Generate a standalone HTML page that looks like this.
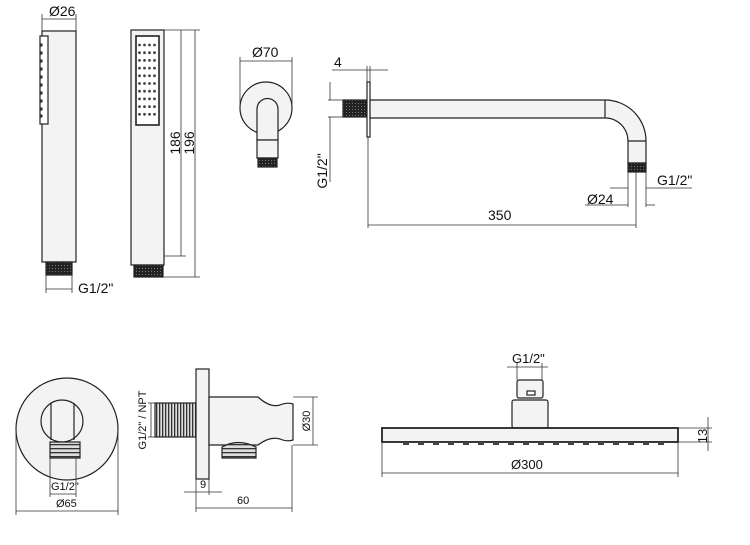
<!DOCTYPE html>
<html><head><meta charset="utf-8"><style>
html,body{margin:0;padding:0;background:#fff;}
svg{display:block;}
text{font-family:"Liberation Sans",sans-serif;fill:#111;}
</style></head><body>
<svg width="750" height="545" viewBox="0 0 750 545" xmlns="http://www.w3.org/2000/svg">
<defs>
<pattern id="th" width="3" height="3" patternUnits="userSpaceOnUse"><rect width="3" height="3" fill="#222"/><rect x="1" y="1" width="1" height="1" fill="#777"/></pattern>
<pattern id="tv" width="3" height="4" patternUnits="userSpaceOnUse"><rect width="3" height="4" fill="#ddd"/><rect width="3" height="1.3" fill="#333"/></pattern>
<pattern id="tx" width="3" height="4" patternUnits="userSpaceOnUse"><rect width="3" height="4" fill="#ddd"/><rect width="1.3" height="4" fill="#333"/></pattern>
</defs>
<g stroke="#222" stroke-width="1.2" fill="#f3f3f3">
<rect x="42" y="31" width="34" height="231"/>
<rect x="40" y="36" width="8" height="88" fill="#fff"/>
<g fill="#333" stroke="none">
<circle cx="41" cy="45" r="1.7"/><circle cx="41" cy="53" r="1.7"/><circle cx="41" cy="61" r="1.7"/><circle cx="41" cy="69" r="1.7"/><circle cx="41" cy="77" r="1.7"/><circle cx="41" cy="85" r="1.7"/><circle cx="41" cy="93" r="1.7"/><circle cx="41" cy="101" r="1.7"/><circle cx="41" cy="109" r="1.7"/><circle cx="41" cy="116" r="1.7"/>
</g>
<rect x="46" y="262" width="26" height="13" fill="url(#th)"/>
<rect x="131" y="30" width="33" height="235"/>
<rect x="136" y="36" width="23" height="89" fill="#fff" stroke-width="1.6"/>
<rect x="134" y="265" width="29" height="12" fill="url(#th)"/>
<circle cx="266" cy="108" r="26"/>
<path d="M257,140 V109 A10.5,10.5 0 0 1 278,109 V140 Z"/>
<rect x="257" y="140" width="21" height="18"/>
<rect x="258" y="158" width="19" height="9" fill="url(#th)"/>
<rect x="343" y="100" width="24" height="17" fill="url(#th)"/>
<rect x="367" y="82" width="3" height="55" fill="#fff"/>
<path d="M370,100 H605 A41,41 0 0 1 646,141 V163 H628 V141 A23,23 0 0 0 605,118 H370 Z"/>
<line x1="605" y1="100" x2="605" y2="118"/>
<line x1="628" y1="141" x2="646" y2="141"/>
<rect x="628" y="163" width="18" height="9" fill="url(#th)"/>
<circle cx="67" cy="429" r="51"/>
<rect x="50" y="442" width="30" height="16" fill="url(#tv)"/>
<circle cx="62" cy="421" r="21"/>
<line x1="51" y1="403" x2="51" y2="440"/><line x1="74" y1="403" x2="74" y2="440"/>
<rect x="155" y="403" width="41" height="34" fill="url(#tx)"/>
<rect x="196" y="369" width="13" height="110"/>
<path d="M209,397 H258 Q270,408 280,405 Q287,402 293,404 V440 Q287,442 280,439 Q270,436 258,445 H209 Z"/>
<path d="M222,447 Q238,438 256,447 V458 H222 Z" fill="url(#tv)"/>
<rect x="517" y="380" width="26" height="18" rx="2"/>
<rect x="527" y="391" width="8" height="4" fill="#fff"/>
<rect x="512" y="400" width="36" height="28" rx="2"/>
<rect x="382" y="428" width="296" height="14" stroke-width="1.8"/>
</g>
<g fill="#444">
<g id="dr"><circle cx="139.5" cy="45" r="1.4"/><circle cx="144.5" cy="45" r="1.4"/><circle cx="149.5" cy="45" r="1.4"/><circle cx="154.5" cy="45" r="1.4"/></g>
<use href="#dr" y="7.7"/><use href="#dr" y="15.4"/><use href="#dr" y="23.1"/><use href="#dr" y="30.8"/><use href="#dr" y="38.5"/><use href="#dr" y="46.2"/><use href="#dr" y="53.9"/><use href="#dr" y="61.6"/><use href="#dr" y="69.3"/>
<g id="nz"><rect x="403" y="442" width="6" height="3"/><rect x="418" y="442" width="6" height="3"/><rect x="433" y="442" width="6" height="3"/><rect x="448" y="442" width="6" height="3"/><rect x="463" y="442" width="6" height="3"/><rect x="478" y="442" width="6" height="3"/><rect x="493" y="442" width="6" height="3"/><rect x="508" y="442" width="6" height="3"/><rect x="523" y="442" width="6" height="3"/></g>
<use href="#nz" x="135"/>
</g>
<g stroke="#333" stroke-width="0.8" fill="none">
<line x1="42" y1="14" x2="42" y2="31"/><line x1="76" y1="14" x2="76" y2="31"/><line x1="42" y1="19" x2="76" y2="19"/>
<line x1="46" y1="275" x2="46" y2="293"/><line x1="72" y1="275" x2="72" y2="293"/><line x1="46" y1="289" x2="72" y2="289"/>
<line x1="164" y1="30" x2="200" y2="30"/><line x1="164" y1="256" x2="186" y2="256"/><line x1="163" y1="277" x2="200" y2="277"/>
<line x1="181" y1="30" x2="181" y2="256"/><line x1="195" y1="30" x2="195" y2="277"/>
<line x1="240" y1="57" x2="240" y2="108"/><line x1="292" y1="57" x2="292" y2="108"/><line x1="240" y1="61" x2="292" y2="61"/>
<line x1="332" y1="70" x2="388" y2="70"/><line x1="367" y1="66" x2="367" y2="82"/><line x1="370" y1="66" x2="370" y2="82"/>
<line x1="328" y1="100" x2="343" y2="100"/><line x1="328" y1="117" x2="343" y2="117"/>
<line x1="330" y1="82" x2="330" y2="100"/><line x1="330" y1="117" x2="330" y2="182"/>
<line x1="368" y1="137" x2="368" y2="228"/><line x1="636" y1="172" x2="636" y2="228"/><line x1="368" y1="225" x2="636" y2="225"/>
<line x1="628" y1="172" x2="628" y2="207"/><line x1="646" y1="172" x2="646" y2="207"/>
<line x1="610" y1="188" x2="628" y2="188"/><line x1="585" y1="205" x2="628" y2="205"/>
<line x1="646" y1="188" x2="692" y2="188"/><line x1="646" y1="205" x2="655" y2="205"/>
<line x1="16" y1="429" x2="16" y2="515"/><line x1="118" y1="429" x2="118" y2="515"/><line x1="16" y1="511" x2="118" y2="511"/>
<line x1="50" y1="458" x2="50" y2="497"/><line x1="76" y1="458" x2="76" y2="497"/><line x1="50" y1="494" x2="76" y2="494"/>
<line x1="148" y1="403" x2="155" y2="403"/><line x1="148" y1="437" x2="155" y2="437"/><line x1="151" y1="403" x2="151" y2="437"/>
<line x1="293" y1="397" x2="318" y2="397"/><line x1="293" y1="445" x2="318" y2="445"/><line x1="313" y1="397" x2="313" y2="445"/>
<line x1="184" y1="492" x2="222" y2="492"/><line x1="196" y1="479" x2="196" y2="512"/><line x1="209" y1="479" x2="209" y2="495"/>
<line x1="292" y1="445" x2="292" y2="512"/><line x1="196" y1="508" x2="292" y2="508"/>
<line x1="517" y1="363" x2="517" y2="380"/><line x1="542" y1="363" x2="542" y2="380"/><line x1="507" y1="367" x2="548" y2="367"/>
<line x1="678" y1="428" x2="712" y2="428"/><line x1="678" y1="442" x2="712" y2="442"/><line x1="708" y1="417" x2="708" y2="451"/>
<line x1="382" y1="442" x2="382" y2="477"/><line x1="678" y1="442" x2="678" y2="477"/><line x1="382" y1="473" x2="678" y2="473"/>
</g>
<g font-size="14">
<text x="49" y="16">Ø26</text>
<text x="78" y="293">G1/2"</text>
<text x="252" y="57">Ø70</text>
<text x="334" y="67">4</text>
<text x="488" y="220">350</text>
<text x="587" y="204">Ø24</text>
<text x="657" y="185">G1/2"</text>
<text transform="translate(180,143) rotate(-90)" text-anchor="middle">186</text>
<text transform="translate(194,143) rotate(-90)" text-anchor="middle">196</text>
<text transform="translate(327,171) rotate(-90)" text-anchor="middle">G1/2"</text>
<text x="512" y="363" font-size="13">G1/2"</text>
<text x="511" y="469" font-size="13">Ø300</text>
<text transform="translate(707,436) rotate(-90)" text-anchor="middle" font-size="13">13</text>
</g>
<g font-size="11">
<text x="51" y="490">G1/2"</text>
<text x="56" y="507">Ø65</text>
<text x="200" y="488">9</text>
<text x="237" y="504">60</text>
<text transform="translate(146,420) rotate(-90)" text-anchor="middle">G1/2" / NPT</text>
<text transform="translate(310,421) rotate(-90)" text-anchor="middle">Ø30</text>
</g>
</svg>
</body></html>
